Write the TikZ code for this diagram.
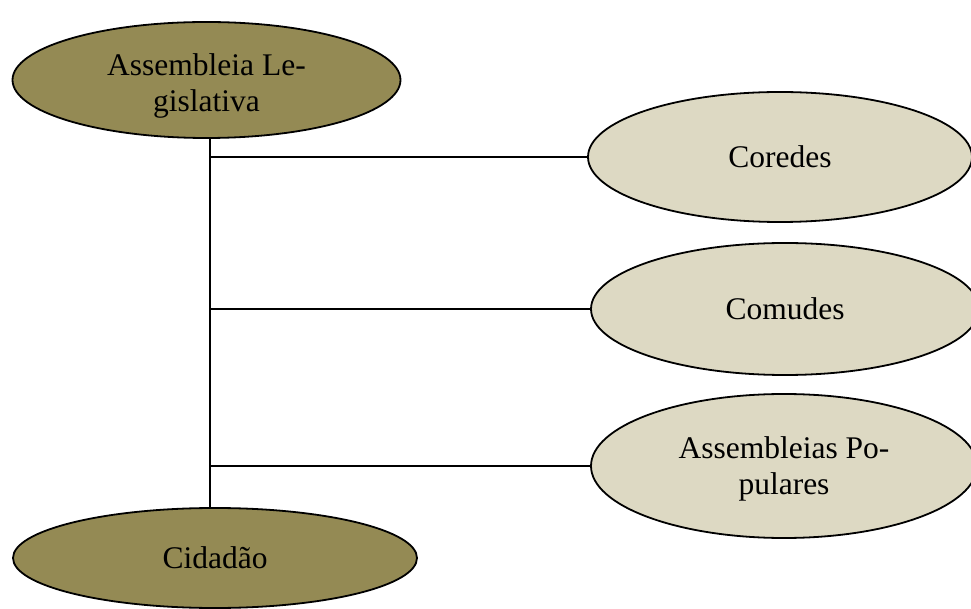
\documentclass[tikz,border=0pt]{standalone}
\usepackage{fontspec}
\setmainfont{Liberation Serif}
\usetikzlibrary{shapes.geometric}
\definecolor{olivedark}{HTML}{948A54}
\definecolor{tanlight}{HTML}{DDD9C3}
\begin{document}
\begin{tikzpicture}[x=1pt,y=1pt,
  txt/.style={align=center, inner sep=0pt, font=\fontsize{31.5pt}{36.5pt}\selectfont, text=black},
  oval/.style={ellipse, draw=black, line width=1.8pt, inner sep=0pt, txt},
  darkoval/.style={oval, fill=olivedark},
  lightoval/.style={oval, fill=tanlight},
  link/.style={draw=black, line width=1.7pt}]
\useasboundingbox (0,0) rectangle (971,608);
\clip (0,0) rectangle (971,608);
\coordinate (spine) at (210,300);
\node[darkoval, minimum width=388pt, minimum height=116pt,
  label={[txt, yshift=-6pt]center:Assembleia Le-\\gislativa}] (leg) at (206.5,528) {};
\node[darkoval, minimum width=404pt, minimum height=100pt] (cid) at (215,50) {Cidadão};
\node[lightoval, minimum width=384pt, minimum height=130pt] (cor) at (780,451) {Coredes};
\node[lightoval, minimum width=388pt, minimum height=132pt] (com) at (785,299) {Comudes};
\node[lightoval, minimum width=386pt, minimum height=144pt,
  label={[txt, yshift=-3pt]center:Assembleias Po-\\pulares}] (pop) at (784,142) {};
\draw[link] (spine |- leg.south) -- (spine |- cid.north);
\draw[link] (spine |- cor.west) -- (cor.west);
\draw[link] (spine |- com.west) -- (com.west);
\draw[link] (spine |- pop.west) -- (pop.west);
\end{tikzpicture}
\end{document}
